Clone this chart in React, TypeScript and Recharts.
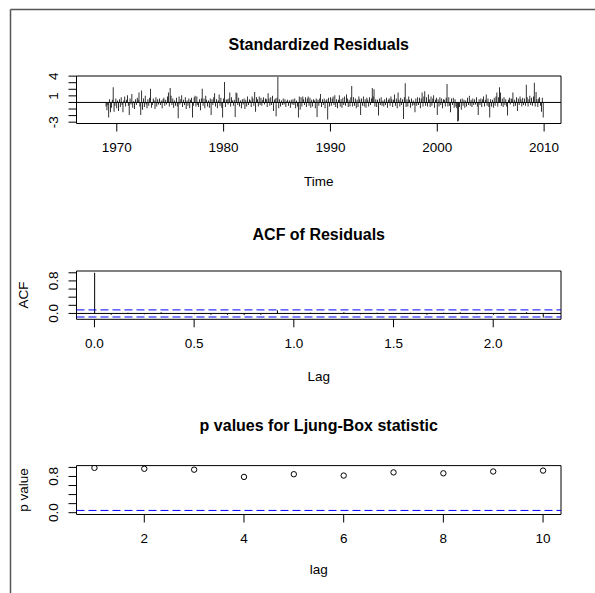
import React from "react";
import {
  ComposedChart,
  Bar,
  Scatter,
  XAxis,
  YAxis,
  ReferenceLine,
  ReferenceArea,
} from "recharts";

const FONT = "'Liberation Sans', Arial, Helvetica, sans-serif";
const LABEL_SIZE = 13.5;
const TITLE_SIZE = 16;

// standardized residuals, monthly, Dec 1967 .. Dec 2009
const residStart = 1967 + 11 / 12;
const resid1967to1969 = [
  0.0,
  0.02, -0.01, 0.01, 0.0, -0.02, 0.01, 0.0, 0.01, -0.01, 0.0, 0.02, -0.01,
  -0.6, -1.2, -0.4, -2.3, 0.5, -1.5, -0.8, 0.4, 2.3, -1.4, -0.5, 0.6,
];
const resid1970s = [
  -0.9, 0.3, -1.3, 0.5, -0.7, 0.8, -0.4, -1.5, 0.3, 0.9, -0.6, 0.4,
  1.1, -0.5, -1.9, 0.6, -0.3, 1.3, -0.8, 0.2, -1.0, 0.5, -0.4, 0.7,
  0.4, 1.5, -0.6, -1.9, 1.8, -1.1, 0.6, -0.7, 1.0, -0.3, -0.9, 0.5,
  -0.5, 0.7, 2.1, -0.8, -0.4, 0.6, 0.3, -1.0, 0.8, -0.6, 0.5, -0.3,
  0.6, -0.4, 0.3, -0.9, 0.5, 0.7, -0.5, 0.4, -0.3, 0.9, 1.5, -0.6,
  2.2, 1.0, -0.4, 0.6, -0.8, 0.3, -0.5, 0.7, -0.6, -2.4, 0.9, -0.3,
  0.5, 1.1, -0.7, 0.4, -0.4, 0.8, -1.0, 0.3, -0.5, 0.6, -0.9, 0.4,
  0.7, -2.3, -0.5, 0.8, 1.0, -0.6, 0.9, -0.4, -0.7, 0.5, -1.2, 0.6,
  2.1, -0.5, 0.6, -0.9, 1.0, 0.4, -0.6, 0.3, -0.8, 0.6, -1.9, 0.5,
  -0.4, 0.8, 1.4, -0.6, 0.5, -0.9, 0.3, 1.2, -0.5, 0.7, -0.8, -2.3,
];
const resid1980s = [
  0.6, 3.1, -0.7, 0.4, 0.5, -0.3, 0.6, 1.5, -0.6, 0.8, 0.3, -0.5,
  0.4, -2.2, 1.5, 1.4, -0.4, 0.7, -0.6, 0.3, -0.9, 0.5, -0.3, 0.6,
  -1.0, 0.4, -0.6, 0.9, -0.4, 0.5, 0.3, -0.7, 0.9, 0.6, -0.5, 1.6,
  -1.4, 0.8, 0.5, -0.6, 0.9, -0.4, 0.7, -0.5, 0.4, 0.8, -0.3, 0.6,
  0.5, -0.7, 1.4, 0.6, -0.5, 0.8, -0.4, 1.0, -1.3, 0.4, 0.6, -2.1,
  0.7, 3.85, -0.9, 0.5, -0.6, 0.3, -0.4, 0.6, -0.3, 0.5, -0.7, 0.2,
  0.4, -0.5, 0.3, -0.8, 0.4, -0.3, 0.5, -0.4, 0.6, -0.9, 0.3, -0.6,
  -2.3, 0.9, -1.1, 0.8, -0.6, 0.9, 0.5, -0.4, 0.8, -0.7, 0.6, 0.9,
  -0.5, 0.7, -0.8, 0.4, -0.6, 0.5, 0.3, -0.9, 0.6, -2.2, 0.4, -0.5,
  0.6, 1.3, -0.7, 0.5, -0.4, 0.6, -0.9, 0.3, 0.5, -2.6, 0.7, -0.6,
];
const resid1990s = [
  0.8, -0.5, 0.6, 0.9, -0.4, 1.1, -0.7, 0.5, -0.9, 0.4, 1.1, -0.6,
  0.5, -0.8, 0.7, -0.4, 0.9, -0.5, 1.2, 0.6, -0.7, 0.4, -0.6, 0.8,
  2.5, -0.6, 0.8, -0.5, 0.6, -0.9, 0.4, -0.7, 0.9, 0.5, -1.9, 0.6,
  -0.5, 0.9, -0.6, 0.5, -0.8, 0.7, 0.4, -0.6, 0.8, -0.4, 0.6, 2.2,
  0.9, 2.0, -0.6, 0.5, -0.7, 0.4, -2.0, 0.6, -0.4, 0.8, -0.5, 0.3,
  -0.6, 0.5, -0.4, 0.7, -0.8, 0.4, 0.6, -0.5, 0.9, 0.5, -0.7, 0.4,
  1.2, -0.5, 0.6, -0.9, 1.5, 0.4, -0.6, 0.7, -0.4, 0.5, -2.5, 0.8,
  2.9, -0.7, 0.5, -0.6, 0.9, 0.4, -0.8, 0.6, -0.5, 0.3, -0.4, -1.5,
  0.6, -0.5, 0.8, -0.4, 0.7, -0.9, 0.6, 1.5, -0.6, 0.9, 1.7, -0.5,
  0.8, -0.6, 1.2, 0.5, -0.7, 0.9, -0.5, 0.6, 1.1, -0.8, 0.4, 0.7,
];
const resid2000s = [
  -1.9, 0.5, -0.6, 0.8, -0.4, 0.6, -0.9, 0.5, 0.4, -0.6, 0.7, 2.8,
  -0.6, 0.8, -0.5, -1.5, 0.6, -0.4, 0.7, -0.8, 0.5, -0.6, -0.9, -2.9,
  -2.8, -0.7, 0.5, -1.1, 0.6, -0.5, 0.4, -0.8, 0.3, -0.6, 0.7, -0.4,
  1.0, -0.5, 0.4, -0.7, 0.6, -0.4, 0.5, -0.3, 0.8, -0.6, -1.9, 0.5,
  -0.4, 0.6, -0.7, 0.5, 0.9, -0.6, 0.4, 1.2, -0.5, 0.6, -0.7, -2.3,
  0.5, -0.6, 0.4, -0.8, 0.7, -0.5, 0.9, 1.5, -0.6, 0.8, 2.3, 1.5,
  -0.5, 0.6, -0.7, 0.8, -0.4, 0.5, -0.6, -2.0, 0.4, 0.7, -0.3, 0.6,
  0.5, 1.5, -0.6, 0.4, -0.5, 0.8, -1.3, 0.6, -0.4, 0.9, 0.5, -0.6,
  0.7, -0.4, 0.6, -0.5, 2.7, 0.8, -0.6, 0.5, 1.0, -0.4, 0.7, -0.5,
  0.9, 3.0, -0.6, 1.6, 0.5, -0.7, 0.6, 0.8, -0.5, -1.4, 0.7, -2.3,
];
const resid = [
  ...resid1967to1969,
  ...resid1970s,
  ...resid1980s,
  ...resid1990s,
  ...resid2000s,
];
const yearTicks = [1970, 1980, 1990, 2000, 2010];
const residTicks = [-3, -2, -1, 0, 1, 2, 3, 4];
const residLabels = [-3, 1, 4];

// ACF of residuals, lag 0..27 (lag in years, frequency 12)
const acfValues = [
  1, -0.03, 0.02, -0.02, 0.03, 0.01, -0.02, -0.03, -0.03, -0.04, -0.03,
  0.08, -0.02, 0.02, -0.01, 0.03, -0.02, 0.02, -0.01, 0.02, -0.03, 0.02,
  0.03, -0.02, -0.03, 0.02, 0.03, -0.1,
];
const acfBound = 0.0872;
const lagTicks = [0, 0.5, 1, 1.5, 2];
const unitTicks = [0, 0.2, 0.4, 0.6, 0.8, 1];
const unitLabels = [0, 0.8];

// Ljung-Box p values, lag 1..10
const pValues = [0.99, 0.97, 0.95, 0.79, 0.85, 0.82, 0.89, 0.87, 0.91, 0.93];
const lbTicks = [2, 4, 6, 8, 10];

const residData = resid.map((r, i) => ({ t: residStart + i / 12, r }));
const acfData = acfValues.map((a, k) => ({ lag: k / 12, a }));
const pData = pValues.map((p, i) => ({ lag: i + 1, p }));

const tickStyle = { fill: "#000", fontSize: LABEL_SIZE, fontFamily: FONT };
const MARGIN_RIGHT = 34;
const AXIS_W = 76.5;

function makeYTick(show: number[], digits: number) {
  return (props: any) => {
    const { x, y, payload } = props;
    if (!show.some((s) => Math.abs(s - payload.value) < 1e-9)) return <g />;
    const txt = digits > 0 ? Number(payload.value).toFixed(digits) : String(payload.value);
    return (
      <text
        x={x}
        y={y}
        transform={`rotate(-90 ${x} ${y})`}
        textAnchor="middle"
        fontSize={LABEL_SIZE}
        fontFamily={FONT}
        fill="#000"
      >
        {txt}
      </text>
    );
  };
}

function Panel({ top, height, children }: { top: number; height: number; children: React.ReactNode }) {
  return <div style={{ position: "absolute", left: 0, top, width: 595, height }}>{children}</div>;
}

export default function App() {
  const xDom1: [number, number] = [1966.23, 2011.58];
  const yDom1: [number, number] = [-3.2, 4.02];
  const xDom2: [number, number] = [-0.09, 2.34];
  const yDom2: [number, number] = [-0.144, 1.044];
  const xDom3: [number, number] = [0.64, 10.36];
  const yDom3: [number, number] = [-0.04, 1.04];
  const cx = (AXIS_W + 595 - MARGIN_RIGHT) / 2;

  return (
    <div
      style={{
        position: "fixed",
        left: 0,
        top: 0,
        width: 595,
        height: 593,
        background: "#fff",
        fontFamily: FONT,
      }}
    >
      <Panel top={0} height={200}>
        <ComposedChart width={595} height={200} data={residData} margin={{ top: 76, right: MARGIN_RIGHT, bottom: 0, left: 0 }}>
          <XAxis
            dataKey="t"
            type="number"
            domain={xDom1}
            ticks={yearTicks}
            interval={0}
            allowDataOverflow
            axisLine={false}
            tickSize={8}
            tickMargin={11}
            tickLine={{ stroke: "#000" }}
            tick={tickStyle}
            height={76.5}
          />
          <YAxis
            type="number"
            domain={yDom1}
            ticks={residTicks}
            interval={0}
            allowDataOverflow
            axisLine={false}
            tickSize={8}
            tickMargin={10}
            tickLine={{ stroke: "#000" }}
            tick={makeYTick(residLabels, 0)}
            width={AXIS_W}
          />
          <ReferenceArea x1={xDom1[0]} x2={xDom1[1]} y1={yDom1[0]} y2={yDom1[1]} fill="none" stroke="#000" strokeWidth={1} ifOverflow="visible" />
          <Bar dataKey="r" fill="#000" barSize={1} isAnimationActive={false} />
          <ReferenceLine y={0} stroke="#000" strokeWidth={1} />
        </ComposedChart>
      </Panel>

      <Panel top={200} height={200}>
        <ComposedChart width={595} height={200} data={acfData} margin={{ top: 71, right: MARGIN_RIGHT, bottom: 0, left: 0 }}>
          <XAxis
            dataKey="lag"
            type="number"
            domain={xDom2}
            ticks={lagTicks}
            interval={0}
            allowDataOverflow
            axisLine={false}
            tickSize={8}
            tickMargin={11}
            tickLine={{ stroke: "#000" }}
            tick={tickStyle}
            tickFormatter={(v: number) => v.toFixed(1)}
            height={80.7}
          />
          <YAxis
            type="number"
            domain={yDom2}
            ticks={unitTicks}
            interval={0}
            allowDataOverflow
            axisLine={false}
            tickSize={8}
            tickMargin={10}
            tickLine={{ stroke: "#000" }}
            tick={makeYTick(unitLabels, 1)}
            width={AXIS_W}
          />
          <ReferenceArea x1={xDom2[0]} x2={xDom2[1]} y1={yDom2[0]} y2={yDom2[1]} fill="none" stroke="#000" strokeWidth={1} ifOverflow="visible" />
          <Bar dataKey="a" fill="#000" barSize={1} isAnimationActive={false} />
          <ReferenceLine y={0} stroke="#000" strokeWidth={1} />
          <ReferenceLine y={acfBound} stroke="#0000ff" strokeWidth={1} strokeDasharray="8 4" />
          <ReferenceLine y={-acfBound} stroke="#0000ff" strokeWidth={1} strokeDasharray="8 4" />
        </ComposedChart>
      </Panel>

      <Panel top={390} height={203}>
        <ComposedChart width={595} height={203} data={pData} margin={{ top: 75.6, right: MARGIN_RIGHT, bottom: 0, left: 0 }}>
          <XAxis
            dataKey="lag"
            type="number"
            domain={xDom3}
            ticks={lbTicks}
            interval={0}
            allowDataOverflow
            axisLine={false}
            tickSize={8}
            tickMargin={11}
            tickLine={{ stroke: "#000" }}
            tick={tickStyle}
            height={78.5}
          />
          <YAxis
            type="number"
            domain={yDom3}
            ticks={unitTicks}
            interval={0}
            allowDataOverflow
            axisLine={false}
            tickSize={8}
            tickMargin={10}
            tickLine={{ stroke: "#000" }}
            tick={makeYTick(unitLabels, 1)}
            width={AXIS_W}
          />
          <ReferenceArea x1={xDom3[0]} x2={xDom3[1]} y1={yDom3[0]} y2={yDom3[1]} fill="none" stroke="#000" strokeWidth={1} ifOverflow="visible" />
          <ReferenceLine y={0.05} stroke="#0000ff" strokeWidth={1} strokeDasharray="8 4" />
          <Scatter
            dataKey="p"
            isAnimationActive={false}
            shape={(s: any) => <circle cx={s.cx} cy={s.cy} r={2.7} fill="none" stroke="#000" strokeWidth={1} />}
          />
        </ComposedChart>
      </Panel>

      <svg
        width={595}
        height={593}
        style={{ position: "absolute", left: 0, top: 0, pointerEvents: "none" }}
      >
        <g stroke="#555" strokeWidth={1.5} fill="none">
          <line x1={10.5} y1={9.5} x2={595} y2={9.5} />
          <line x1={10.5} y1={9.5} x2={10.5} y2={593} />
        </g>
        <g fontFamily={FONT} fill="#000" textAnchor="middle">
          <text x={cx} y={50} fontSize={TITLE_SIZE} fontWeight="bold">Standardized Residuals</text>
          <text x={cx} y={186} fontSize={LABEL_SIZE}>Time</text>
          <text x={cx} y={240} fontSize={TITLE_SIZE} fontWeight="bold">ACF of Residuals</text>
          <text x={cx} y={381} fontSize={LABEL_SIZE}>Lag</text>
          <text x={28} y={295} fontSize={LABEL_SIZE} transform="rotate(-90 28 295)">ACF</text>
          <text x={cx} y={431} fontSize={TITLE_SIZE} fontWeight="bold">p values for Ljung-Box statistic</text>
          <text x={cx} y={574} fontSize={LABEL_SIZE}>lag</text>
          <text x={28} y={490} fontSize={LABEL_SIZE} transform="rotate(-90 28 490)">p value</text>
        </g>
      </svg>
    </div>
  );
}
